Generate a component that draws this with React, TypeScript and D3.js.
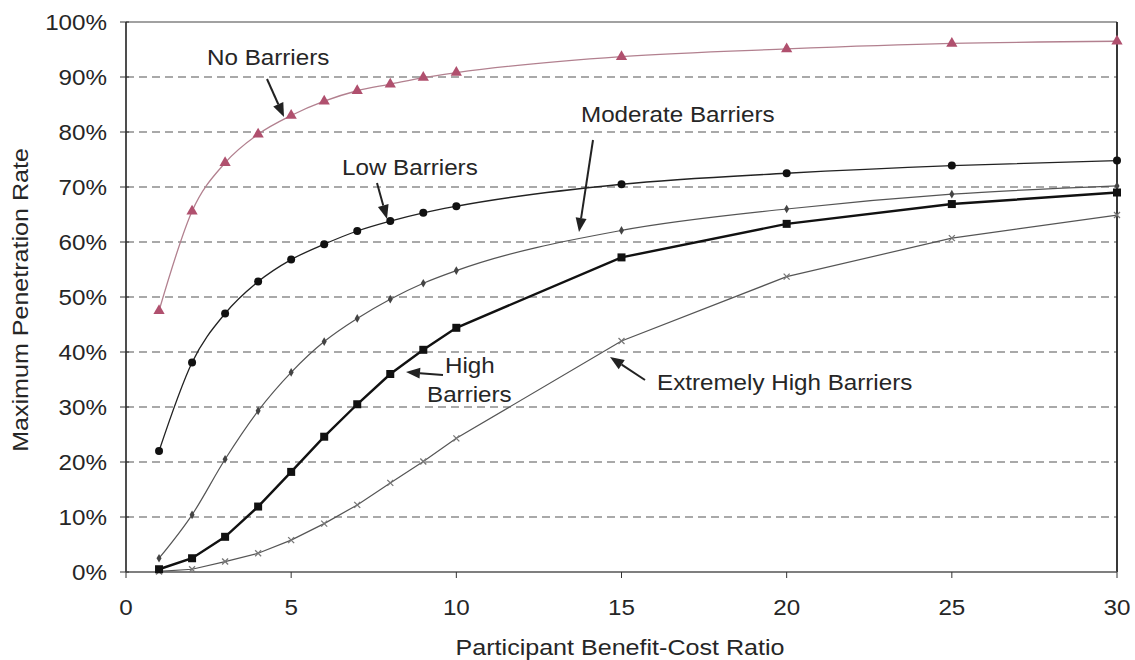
import React from "react";
import * as d3 from "d3";

const ratios = [1, 2, 3, 4, 5, 6, 7, 8, 9, 10, 15, 20, 25, 30];
const noBarriers = [47.5, 65.6, 74.4, 79.6, 83.0, 85.6, 87.5, 88.7, 89.9, 90.8, 93.7, 95.1, 96.1, 96.5];
const lowBarriers = [22.0, 38.1, 47.0, 52.8, 56.8, 59.6, 62.0, 63.8, 65.3, 66.5, 70.5, 72.5, 73.9, 74.8];
const moderateBarriers = [2.5, 10.4, 20.5, 29.3, 36.3, 41.9, 46.1, 49.6, 52.5, 54.8, 62.1, 66.0, 68.7, 70.2];
const highBarriers = [0.5, 2.5, 6.4, 11.9, 18.2, 24.6, 30.5, 36.0, 40.4, 44.4, 57.2, 63.3, 66.9, 69.0];
const extremeBarriers = [0.1, 0.5, 1.9, 3.4, 5.8, 8.8, 12.2, 16.2, 20.1, 24.3, 42.0, 53.7, 60.7, 64.9];
const xTicks = [0, 5, 10, 15, 20, 25, 30];
const yTicks = [0, 10, 20, 30, 40, 50, 60, 70, 80, 90, 100];

const W = 1135, H = 660;
const x = d3.scaleLinear().domain([0, 30]).range([126, 1117]);
const y = d3.scaleLinear().domain([0, 100]).range([572, 22]);
const FONT = "Liberation Sans, Arial, sans-serif";

type Pt = [number, number];
const pts = (vals: number[]): Pt[] => ratios.map((r, i) => [x(r), y(vals[i])]);
const line = d3.line<Pt>().x(d => d[0]).y(d => d[1]).curve(d3.curveLinear);
const smooth = d3.line<Pt>().x(d => d[0]).y(d => d[1]).curve(d3.curveMonotoneX);

function T({ x: tx, y: ty, children, anchor = "start", sx = 1.1, rot = 0, size = 22 }:
  { x: number; y: number; children: React.ReactNode; anchor?: string; sx?: number; rot?: number; size?: number }) {
  return (
    <text transform={`translate(${tx},${ty}) rotate(${rot}) scale(${sx},1)`} textAnchor={anchor as any}
      fontSize={size} fill="#262626">{children}</text>
  );
}

function Arrow({ x1, y1, x2, y2 }: { x1: number; y1: number; x2: number; y2: number }) {
  const a = Math.atan2(y2 - y1, x2 - x1);
  const L = 14, w = 5.5;
  const bx = x2 - L * Math.cos(a), by = y2 - L * Math.sin(a);
  const p1 = [bx + w * Math.sin(a), by - w * Math.cos(a)];
  const p2 = [bx - w * Math.sin(a), by + w * Math.cos(a)];
  return (
    <g>
      <line x1={x1} y1={y1} x2={bx} y2={by} stroke="#222" strokeWidth={2} />
      <polygon points={`${x2},${y2} ${p1[0]},${p1[1]} ${p2[0]},${p2[1]}`} fill="#222" />
    </g>
  );
}

export default function App() {
  const nb = pts(noBarriers), lb = pts(lowBarriers), mb = pts(moderateBarriers), hb = pts(highBarriers), eb = pts(extremeBarriers);
  return (
    <svg width={W} height={H} style={{ position: "absolute", left: 0, top: 0, background: "#fff" }} fontFamily={FONT}>
      <rect x={0} y={0} width={W} height={H} fill="#fff" />
      {yTicks.filter(t => t > 0 && t < 100).map(t => (
        <line key={t} x1={x(0)} x2={x(30)} y1={y(t)} y2={y(t)} stroke="#555" strokeWidth={1.1} strokeDasharray="8,5" />
      ))}
      <line x1={x(0)} x2={x(30)} y1={y(100)} y2={y(100)} stroke="#444" strokeWidth={1.2} />
      <line x1={x(30)} x2={x(30)} y1={y(100)} y2={y(0)} stroke="#222" strokeWidth={1.8} />
      <line x1={x(0)} x2={x(0)} y1={y(100)} y2={y(0)} stroke="#222" strokeWidth={1.6} />
      <line x1={x(0)} x2={x(30)} y1={y(0)} y2={y(0)} stroke="#555" strokeWidth={1.3} />
      {yTicks.map(t => (
        <g key={t}>
          <line x1={x(0) - 6} x2={x(0) + 3} y1={y(t)} y2={y(t)} stroke="#333" />
          <T x={107} y={y(t) + 7.5} anchor="end">{t}%</T>
        </g>
      ))}
      {xTicks.map(t => (
        <g key={t}>
          <line x1={x(t)} x2={x(t)} y1={y(0)} y2={y(0) + 6} stroke="#333" />
          <T x={x(t)} y={615} anchor="middle">{t}</T>
        </g>
      ))}
      <T x={620} y={655} anchor="middle" sx={1.14}>Participant Benefit-Cost Ratio</T>
      <T x={28} y={300} anchor="middle" rot={-90} sx={1.14}>Maximum Penetration Rate</T>

      <path d={line(eb) || ""} fill="none" stroke="#555" strokeWidth={1.2} />
      <path d={smooth(mb) || ""} fill="none" stroke="#555" strokeWidth={1.2} />
      <path d={line(hb) || ""} fill="none" stroke="#111" strokeWidth={2.4} />
      <path d={smooth(lb) || ""} fill="none" stroke="#222" strokeWidth={1.3} />
      <path d={smooth(nb) || ""} fill="none" stroke="#b2808f" strokeWidth={1.3} />

      {eb.map((p, i) => (
        <g key={"e" + i} stroke="#777" strokeWidth={1.3}>
          <line x1={p[0] - 3} y1={p[1] - 3} x2={p[0] + 3} y2={p[1] + 3} />
          <line x1={p[0] - 3} y1={p[1] + 3} x2={p[0] + 3} y2={p[1] - 3} />
        </g>
      ))}
      {mb.map((p, i) => (
        <path key={"m" + i} d={d3.symbol(d3.symbolDiamond, 22)() || ""} transform={`translate(${p[0]},${p[1]})`} fill="#444" />
      ))}
      {hb.map((p, i) => (
        <rect key={"h" + i} x={p[0] - 4} y={p[1] - 4} width={8} height={8} fill="#111" />
      ))}
      {lb.map((p, i) => (
        <circle key={"l" + i} cx={p[0]} cy={p[1]} r={4} fill="#111" />
      ))}
      {nb.map((p, i) => (
        <path key={"n" + i} d={d3.symbol(d3.symbolTriangle, 55)() || ""} transform={`translate(${p[0]},${p[1]})`} fill="#b0506e" />
      ))}

      <T x={207} y={65}>No Barriers</T>
      <Arrow x1={267} y1={79} x2={284} y2={117} />
      <T x={342} y={175}>Low Barriers</T>
      <Arrow x1={377} y1={183} x2={387} y2={219} />
      <T x={581} y={122}>Moderate Barriers</T>
      <Arrow x1={593} y1={140} x2={579} y2={232} />
      <T x={445} y={373}>High</T>
      <T x={427} y={402}>Barriers</T>
      <Arrow x1={443} y1={375} x2={406} y2={372} />
      <T x={657} y={390}>Extremely High Barriers</T>
      <Arrow x1={645} y1={380} x2={610} y2={357} />
    </svg>
  );
}
